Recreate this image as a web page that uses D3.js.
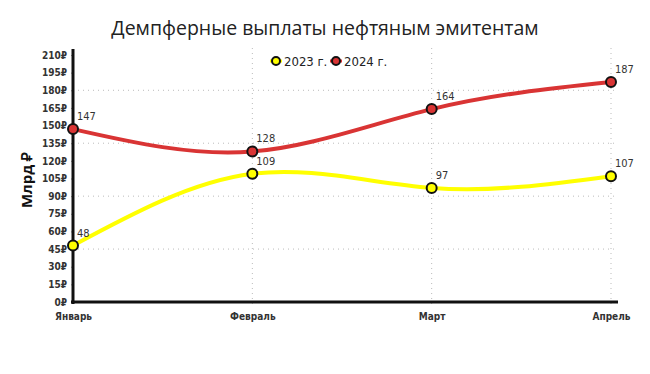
<!DOCTYPE html>
<html>
<head>
<meta charset="utf-8">
<script src="https://cdn.jsdelivr.net/npm/d3@7"></script>
<style>
  body { margin: 0; background: #fff; }
  svg { display: block; }
</style>
</head>
<body>
<div id="chart"></div>
<script>
var months = ["Январь", "Февраль", "Март", "Апрель"]
var values2023 = [48, 109, 97, 107]
var values2024 = [147, 128, 164, 187]
var yTicks = d3.range(0, 211, 15)
var gridTicks = [45, 90, 135, 180]

var width = 650
var height = 374
var font = "'DejaVu Sans Condensed', sans-serif"

var svg = d3.select("#chart")
    .append("svg")
    .attr("width", width)
    .attr("height", height)

var x = d3.scalePoint()
    .domain(months)
    .range([73, 611])

var y = d3.scaleLinear()
    .domain([0, 210])
    .range([302, 55])

// title
svg.append("text")
    .attr("x", 325)
    .attr("y", 35)
    .attr("text-anchor", "middle")
    .attr("font-family", "'Open Sans', sans-serif")
    .attr("font-size", 19.5)
    .attr("fill", "#222")
    .text("Демпферные выплаты нефтяным эмитентам")

// grid
var grid = svg.append("g")
    .attr("stroke", "#bbb")
    .attr("stroke-width", 1)
    .attr("stroke-dasharray", "1,4")

grid.selectAll("line.h")
    .data(gridTicks)
    .join("line")
    .attr("class", "h")
    .attr("x1", 73)
    .attr("x2", 615)
    .attr("y1", d => y(d))
    .attr("y2", d => y(d))

grid.selectAll("line.v")
    .data(months.slice(1))
    .join("line")
    .attr("class", "v")
    .attr("x1", d => x(d))
    .attr("x2", d => x(d))
    .attr("y1", 48)
    .attr("y2", 306)

// y axis
var yAxis = svg.append("g")
    .attr("transform", "translate(73,0)")
    .call(d3.axisLeft(y).tickValues(yTicks).tickFormat(d => d + "₽").tickSize(2).tickPadding(4))

yAxis.select(".domain").remove()
yAxis.selectAll(".tick line").attr("stroke", "#999")
yAxis.selectAll("text")
    .attr("font-family", font)
    .attr("font-size", 10)
    .attr("font-weight", "bold")
    .attr("fill", "#333")

svg.append("line")
    .attr("x1", 73).attr("x2", 73)
    .attr("y1", 49).attr("y2", 304)
    .attr("stroke", "#111")
    .attr("stroke-width", 3)

// x axis
var xAxis = svg.append("g")
    .attr("transform", "translate(0,302)")
    .call(d3.axisBottom(x).tickSize(0).tickPadding(11))

xAxis.select(".domain").remove()
xAxis.selectAll("text")
    .attr("font-family", font)
    .attr("font-size", 10)
    .attr("font-weight", "bold")
    .attr("fill", "#333")

svg.append("line")
    .attr("x1", 71).attr("x2", 618)
    .attr("y1", 302).attr("y2", 302)
    .attr("stroke", "#111")
    .attr("stroke-width", 3)

// axis title
svg.append("text")
    .attr("transform", "translate(32,180) rotate(-90)")
    .attr("text-anchor", "middle")
    .attr("font-family", "'Open Sans', sans-serif")
    .attr("font-size", 15)
    .attr("font-weight", "bold")
    .attr("fill", "#111")
    .text("Млрд ₽")

// lines
var line = d3.line()
    .x((d, i) => x(months[i]))
    .y(d => y(d))
    .curve(d3.curveNatural)

var series = [
    { name: "2023 г.", values: values2023, color: "#ffff00" },
    { name: "2024 г.", values: values2024, color: "#d93434" }
]

series.forEach(s => {
    svg.append("path")
        .datum(s.values)
        .attr("d", line)
        .attr("fill", "none")
        .attr("stroke", s.color)
        .attr("stroke-width", 4)
})

series.forEach(s => {
    svg.append("g")
        .selectAll("circle")
        .data(s.values)
        .join("circle")
        .attr("cx", (d, i) => x(months[i]))
        .attr("cy", d => y(d))
        .attr("r", 5)
        .attr("fill", s.color)
        .attr("stroke", "#111")
        .attr("stroke-width", 2)

    svg.append("g")
        .selectAll("text")
        .data(s.values)
        .join("text")
        .attr("x", (d, i) => x(months[i]) + 4)
        .attr("y", d => y(d) - 9)
        .attr("font-family", font)
        .attr("font-size", 11)
        .attr("fill", "#333")
        .text(d => d)
})

// legend
var legend = svg.append("g")
    .attr("transform", "translate(276,61)")

var item = legend.selectAll("g")
    .data(series)
    .join("g")
    .attr("transform", (d, i) => "translate(" + (i * 60) + ",0)")

item.append("line")
    .attr("x1", -6).attr("x2", 6)
    .attr("stroke", d => d.color)
    .attr("stroke-width", 3)

item.append("circle")
    .attr("r", 4)
    .attr("fill", d => d.color)
    .attr("stroke", "#111")
    .attr("stroke-width", 2)

item.append("text")
    .attr("x", 8)
    .attr("dy", "0.35em")
    .attr("font-family", font)
    .attr("font-size", 13)
    .attr("fill", "#222")
    .text(d => d.name)
</script>
</body>
</html>
